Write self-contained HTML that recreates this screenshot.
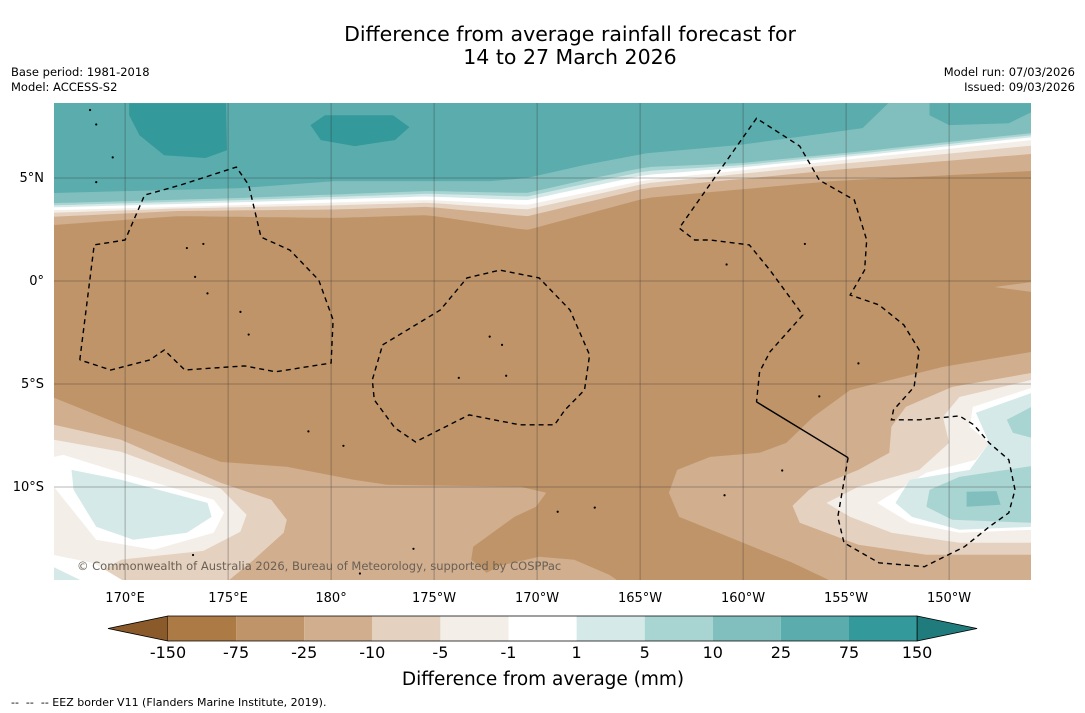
<!DOCTYPE html>
<html><head><meta charset="utf-8"><style>
body{margin:0;background:#fff;width:1085px;height:713px;overflow:hidden;font-family:"DejaVu Sans","Liberation Sans",sans-serif;}
svg{position:absolute;left:0;top:0;font-family:"DejaVu Sans","Liberation Sans",sans-serif;}
</style></head><body>
<svg id="chart" width="1085" height="713" viewBox="0 0 1085 713">
<text x="570" y="41" font-size="20.5" text-anchor="middle">Difference from average rainfall forecast for</text>
<text x="570" y="64" font-size="20.5" text-anchor="middle">14 to 27 March 2026</text>
<text x="11" y="76" font-size="11.5">Base period: 1981-2018</text>
<text x="11" y="91" font-size="11.5">Model: ACCESS-S2</text>
<text x="1075" y="76" font-size="11.5" text-anchor="end">Model run: 07/03/2026</text>
<text x="1075" y="91" font-size="11.5" text-anchor="end">Issued: 09/03/2026</text>
<defs><clipPath id="mapclip"><rect x="54" y="103" width="977" height="477"/></clipPath></defs>
<g id="map" clip-path="url(#mapclip)"></g>
<g id="axes"></g>
<g id="cbar"></g>
<text x="543" y="685" font-size="18.5" text-anchor="middle">Difference from average (mm)</text>
<text x="11" y="706" font-size="11" xml:space="preserve" style="white-space:pre">--  --  -- EEZ border V11 (Flanders Marine Institute, 2019).</text>
</svg>
<script>
// ---- data ----
const cbLevels = ["-150","-75","-25","-10","-5","-1","1","5","10","25","75","150"];
const cbColors = ["#ac7a45","#bf9468","#d0ae8e","#e5d1bf","#f3eee8","#ffffff","#d5e9e8","#a8d4d2","#80bfbd","#5aacad","#33999a"];
const cbExtendLow = "#8b5a2b", cbExtendHigh = "#1f7b7c";
const lonTicks = [170,175,180,185,190,195,200,205,210];
const lonTickLabels = ["170°E","175°E","180°","175°W","170°W","165°W","160°W","155°W","150°W"];
const latTicks = [5,0,-5,-10];
const latTickLabels = ["5°N","0°","5°S","10°S"];
const topTeal = [[166.55,4.27],[175.6,4.51],[180.15,4.85],[184.7,4.85],[187.7,4.85],[189.5,5.0],[192.3,5.63],[195.3,6.2],[199.8,6.6],[205.8,7.42],[207.05,8.63]];
const topLight = [[166.55,3.78],[175.6,4.03],[184.7,4.37],[189.5,4.27],[192.3,4.9],[195.3,5.53],[199.8,5.72],[205.8,6.3],[214,7.18]];
const topWhite = [[166.55,3.44],[184.7,3.93],[189.5,3.69],[195.3,4.9],[205.8,5.97],[214,6.84]];
const topTan = [[166.55,2.72],[172.6,3.15],[180.15,3.06],[184.7,3.2],[189.5,2.47],[195.3,4.03],[204.35,4.85],[214,5.34]];
const patchNE = [[209.05,8.63],[214,8.63],[214,8.2],[212.9,7.66],[210,7.57],[209.05,8.05]];
const dark1 = [[170.2,8.63],[174.9,8.63],[174.95,6.35],[173.9,5.97],[171.9,6.1],[170.7,7.08],[170.2,8.05]];
const dark2 = [[179.0,7.57],[179.7,8.05],[183.0,8.05],[183.8,7.47],[183.1,6.84],[181.15,6.55],[179.5,6.84]];
const swTan = [[166.55,-5.67],[169.8,-6.98],[174.65,-8.78],[177.85,-9.02],[181.1,-9.65],[182.7,-9.89],[189.2,-9.99],[190.45,-10.28],[189.95,-10.96],[188.9,-11.45],[186.9,-12.9],[186.8,-13.53],[187.55,-14.16],[188.2,-13.82],[190.1,-13.39],[191.8,-13.53],[193.5,-14.26],[194.0,-14.6],[166.55,-14.6]];
const swBeige = [[166.55,-6.98],[169.8,-7.71],[174.65,-9.8],[177.1,-10.62],[177.85,-11.59],[177.7,-12.22],[176.25,-13.53],[174.95,-14.6],[166.55,-14.6]];
const swCream = [[166.55,-7.71],[169.8,-8.29],[174.65,-10.08],[175.9,-11.35],[175.6,-12.17],[173.8,-13.1],[169.8,-13.53],[168.0,-14.6],[166.55,-14.6]];
const swWhite = [[166.55,-8.54],[167.0,-8.44],[169.8,-9.31],[174.3,-10.62],[174.8,-11.25],[174.3,-12.22],[171.4,-13.05],[168.6,-12.56],[166.55,-10.0]];
const swTeal = [[167.4,-9.17],[169.8,-9.65],[174.0,-10.77],[174.2,-11.45],[173.0,-12.22],[170.4,-12.56],[168.6,-11.93],[167.5,-10.14]];
const swCornerWhite = [[166.55,-13.3],[168.5,-13.7],[170.0,-14.6],[166.55,-14.6]];
const swCornerTeal = [[166.55,-13.9],[168.0,-14.6],[166.55,-14.6]];
const seTan = [[214,-3.44],[209.7,-4.17],[205.2,-5.29],[203.4,-6.6],[202.1,-7.86],[200.8,-8.34],[198.4,-8.54],[196.8,-9.17],[196.4,-10.28],[196.9,-11.45],[200.0,-12.71],[202.4,-13.68],[204.35,-14.6],[214,-14.6]];
const seBeige = [[214,-4.46],[210.15,-5.14],[207.9,-6.11],[207.2,-7.08],[207.1,-8.34],[205.6,-9.17],[203.2,-10.14],[202.4,-10.91],[202.75,-11.74],[205.6,-12.8],[208.9,-13.29],[214,-13.29]];
const seCream = [[214,-4.8],[210.5,-5.63],[209.7,-6.6],[210.0,-7.86],[208.55,-9.17],[205.6,-9.99],[204.05,-10.77],[205.2,-11.45],[207.2,-12.22],[210.5,-12.71],[214,-12.71]];
const seWhite = [[214,-5.19],[211.15,-6.11],[211.0,-7.08],[211.95,-7.86],[211.3,-8.68],[208.9,-9.31],[206.5,-10.77],[208.1,-11.74],[210.5,-12.22],[214,-12.08]];
const seTeal = [[214,-5.43],[211.3,-6.4],[211.95,-7.86],[211.0,-9.17],[208.1,-9.65],[207.4,-10.77],[208.2,-11.45],[210.5,-12.08],[214,-11.93]];
const seBlob1 = [[214,-6.11],[212.8,-6.74],[213.1,-7.37],[214,-7.61]];
const seBlob2 = [[214,-8.98],[210.5,-9.51],[209.05,-10.14],[208.9,-10.96],[210.15,-11.59],[214,-11.74]];
const seBlob3 = [[210.85,-10.23],[212.3,-10.2],[212.5,-10.86],[210.85,-10.96]];
const eBump = [[212.2,-0.29],[214,-0.05],[214,-0.53]];
const eezWest = [[167.8,-3.83],[168.5,1.75],[170.0,1.99],[170.95,4.17],[172.7,4.66],[175.4,5.53],[176.0,4.66],[176.6,2.13],[178.0,1.5],[179.4,0.05],[180.1,-1.89],[180.0,-3.98],[177.3,-4.41],[175.8,-4.12],[172.9,-4.32],[171.9,-3.35],[171.2,-3.83],[169.3,-4.32],[167.8,-3.83]];
const eezMid = [[182.5,-3.1],[185.3,-1.41],[186.6,0.15],[188.2,0.53],[190.1,0.15],[191.6,-1.41],[192.55,-3.59],[192.3,-5.29],[191.35,-6.26],[190.85,-6.98],[189.15,-6.98],[186.7,-6.5],[184.1,-7.81],[183.1,-7.13],[182.1,-5.77],[182.0,-4.8],[182.5,-3.1]];
const eezEast = [[205.1,-8.58],[204.6,-11.45],[204.9,-12.71],[206.6,-13.68],[208.8,-13.87],[210.75,-12.9],[211.95,-11.93],[212.9,-11.25],[213.2,-10.14],[212.9,-8.68],[211.95,-7.86],[211.2,-6.98],[210.5,-6.55],[208.55,-6.74],[207.2,-6.74],[207.3,-6.26],[208.3,-5.14],[208.55,-3.35],[207.8,-2.13],[206.6,-1.16],[205.2,-0.68],[205.9,0.53],[206.0,1.99],[205.4,3.93],[203.7,4.9],[202.75,6.55],[200.65,7.9],[196.9,2.57],[197.65,1.99],[198.4,1.99],[200.3,1.75],[201.3,0.53],[202.9,-1.65],[201.3,-3.44],[200.8,-4.41],[200.65,-5.87]];
const eezSolid = [[200.65,-5.87],[205.1,-8.58]];
const islands = [[168.3,8.3],[168.6,7.6],[169.4,6.0],[168.6,4.8],[173.8,1.8],[173.0,1.6],[173.4,0.2],[174.0,-0.6],[175.6,-1.5],[176.0,-2.6],[178.9,-7.3],[180.6,-8.0],[187.7,-2.7],[188.3,-3.1],[186.2,-4.7],[188.5,-4.6],[191.0,-11.2],[184.0,-13.0],[192.8,-11.0],[199.2,0.8],[203.0,1.8],[205.6,-4.0],[203.7,-5.6],[201.9,-9.2],[199.1,-10.4],[173.3,-13.3],[181.4,-14.2]];
// ---- scales ----
const X = lon => 54 + (lon - 166.55) * 20.6;
const Y = lat => 281 - lat * 20.6;
const NS = "http://www.w3.org/2000/svg";
const map = document.getElementById('map');
function pts(a){return a.map(p=>X(p[0]).toFixed(1)+","+Y(p[1]).toFixed(1)).join(" ");}
function poly(parent,a,fill,name){
  const e=document.createElementNS(NS,'polygon');
  e.setAttribute('points',pts(a));e.setAttribute('fill',fill);
  
  
  parent.appendChild(e);return e;
}
function latAt(c,lon){
  if(lon<=c[0][0])return c[0][1];
  for(let i=1;i<c.length;i++){if(lon<=c[i][0]){const t=(lon-c[i-1][0])/(c[i][0]-c[i-1][0]);return c[i-1][1]+t*(c[i][1]-c[i-1][1]);}}
  return c[c.length-1][1];
}
function bandPoly(ca,cb,f){
  const r=[[166.55,9]];
  for(let lon=166.55;lon<=214.01;lon+=0.5){r.push([lon,latAt(ca,lon)*(1-f)+latAt(cb,lon)*f]);}
  r.push([214,latAt(ca,214)*(1-f)+latAt(cb,214)*f]);r.push([214,9]);return r;
}
const bg=document.createElementNS(NS,'rect');
bg.setAttribute('x',54);bg.setAttribute('y',103);bg.setAttribute('width',977);bg.setAttribute('height',477);bg.setAttribute('fill',cbColors[1]);


map.appendChild(bg);
poly(map,bandPoly(topTan,topTan,0),cbColors[2],'band-tan-north');
poly(map,bandPoly(topWhite,topTan,0.45),cbColors[3],'band-beige-north');
poly(map,bandPoly(topWhite,topTan,0.18),cbColors[4],'band-cream-north');
poly(map,bandPoly(topWhite,topWhite,0),cbColors[5],'band-white-north');
poly(map,bandPoly(topLight,topWhite,0.6),cbColors[6],'band-lightteal-north');
poly(map,bandPoly(topLight,topWhite,0.3),cbColors[7],'band-teal1-north');
poly(map,bandPoly(topLight,topLight,0),cbColors[8],'band-teal2-north');
poly(map,[[166.55,8.7]].concat(topTeal),cbColors[9],'band-teal3-north');
poly(map,patchNE,cbColors[9],'patch-northeast');
poly(map,dark1,cbColors[10],'patch-dark-west');
poly(map,dark2,cbColors[10],'patch-dark-central');
poly(map,swTan,cbColors[2],'sw-tan');
poly(map,swBeige,cbColors[3],'sw-beige');
poly(map,swCream,cbColors[4],'sw-cream');
poly(map,swWhite,cbColors[5],'sw-white');
poly(map,swTeal,cbColors[6],'sw-lightteal');
poly(map,swCornerWhite,cbColors[5],'sw-corner-white');
poly(map,swCornerTeal,cbColors[6],'sw-corner-teal');
poly(map,seTan,cbColors[2],'se-tan');
poly(map,seBeige,cbColors[3],'se-beige');
poly(map,seCream,cbColors[4],'se-cream');
poly(map,seWhite,cbColors[5],'se-white');
poly(map,seTeal,cbColors[6],'se-lightteal');
poly(map,seBlob1,cbColors[7],'se-teal-blob1');
poly(map,seBlob2,cbColors[7],'se-teal-blob2');
poly(map,seBlob3,cbColors[8],'se-teal-blob3');
poly(map,eBump,cbColors[2],'east-tan-bump');
lonTicks.forEach(l=>{const e=document.createElementNS(NS,'line');e.setAttribute('x1',X(l));e.setAttribute('x2',X(l));e.setAttribute('y1',103);e.setAttribute('y2',580);e.setAttribute('stroke','#333');e.setAttribute('stroke-width','0.5');e.setAttribute('stroke-opacity','0.7');


map.appendChild(e);});
latTicks.forEach(l=>{const e=document.createElementNS(NS,'line');e.setAttribute('y1',Y(l));e.setAttribute('y2',Y(l));e.setAttribute('x1',54);e.setAttribute('x2',1031);e.setAttribute('stroke','#333');e.setAttribute('stroke-width','0.5');e.setAttribute('stroke-opacity','0.7');


map.appendChild(e);});
islands.forEach(p=>{const e=document.createElementNS(NS,'circle');e.setAttribute('cx',X(p[0]));e.setAttribute('cy',Y(p[1]));e.setAttribute('r',1.1);e.setAttribute('fill','#000');


map.appendChild(e);});
function line(a,dash,name){const e=document.createElementNS(NS,'polyline');e.setAttribute('points',pts(a));e.setAttribute('fill','none');e.setAttribute('stroke','#000');e.setAttribute('stroke-width','1.4');if(dash)e.setAttribute('stroke-dasharray','5,4');


map.appendChild(e);}
line(eezWest,true,'eez-border-west');
line(eezMid,true,'eez-border-central');
line(eezEast,true,'eez-border-east');
line(eezSolid,false,'eez-border-solid');
const cp=document.createElementNS(NS,'text');cp.setAttribute('x',77);cp.setAttribute('y',570);cp.setAttribute('font-size','11.5');cp.setAttribute('fill','#6a6055');cp.textContent='© Commonwealth of Australia 2026, Bureau of Meteorology, supported by COSPPac';


map.appendChild(cp);
const ax=document.getElementById('axes');
lonTicks.forEach((l,i)=>{const t=document.createElementNS(NS,'text');t.setAttribute('x',X(l));t.setAttribute('y',602);t.setAttribute('font-size','13');t.setAttribute('text-anchor','middle');t.textContent=lonTickLabels[i];


ax.appendChild(t);});
latTicks.forEach((l,i)=>{const t=document.createElementNS(NS,'text');t.setAttribute('x',44);t.setAttribute('y',Y(l)+4);t.setAttribute('font-size','13');t.setAttribute('text-anchor','end');t.textContent=latTickLabels[i];


ax.appendChild(t);});
const cb=document.getElementById('cbar');
const cbx0=168,cbw=68.1,cby=616,cbh=25;
function cbEl(tag,attrs,name){const e=document.createElementNS(NS,tag);for(const k in attrs)e.setAttribute(k,attrs[k]);


cb.appendChild(e);return e;}
cbEl('polygon',{points:`108,${cby+cbh/2} ${cbx0},${cby} ${cbx0},${cby+cbh}`,fill:cbExtendLow,stroke:'#000','stroke-width':0.8},'colorbar-extend-low');
cbColors.forEach((c,i)=>{cbEl('rect',{x:cbx0+i*cbw,y:cby,width:cbw,height:cbh,fill:c},'colorbar-swatch');});
const cbx1=cbx0+cbColors.length*cbw;
cbEl('polygon',{points:`${cbx1},${cby} ${cbx1+60},${cby+cbh/2} ${cbx1},${cby+cbh}`,fill:cbExtendHigh,stroke:'#000','stroke-width':0.8},'colorbar-extend-high');
cbEl('path',{d:`M${cbx0},${cby}H${cbx1}M${cbx0},${cby+cbh}H${cbx1}`,stroke:'#000','stroke-width':0.8,fill:'none'},'colorbar-frame');
cbLevels.forEach((l,i)=>{const t=cbEl('text',{x:cbx0+i*cbw,y:658,'font-size':16,'text-anchor':'middle'},'colorbar-tick-label');t.textContent=l;});
</script>
</body></html>
